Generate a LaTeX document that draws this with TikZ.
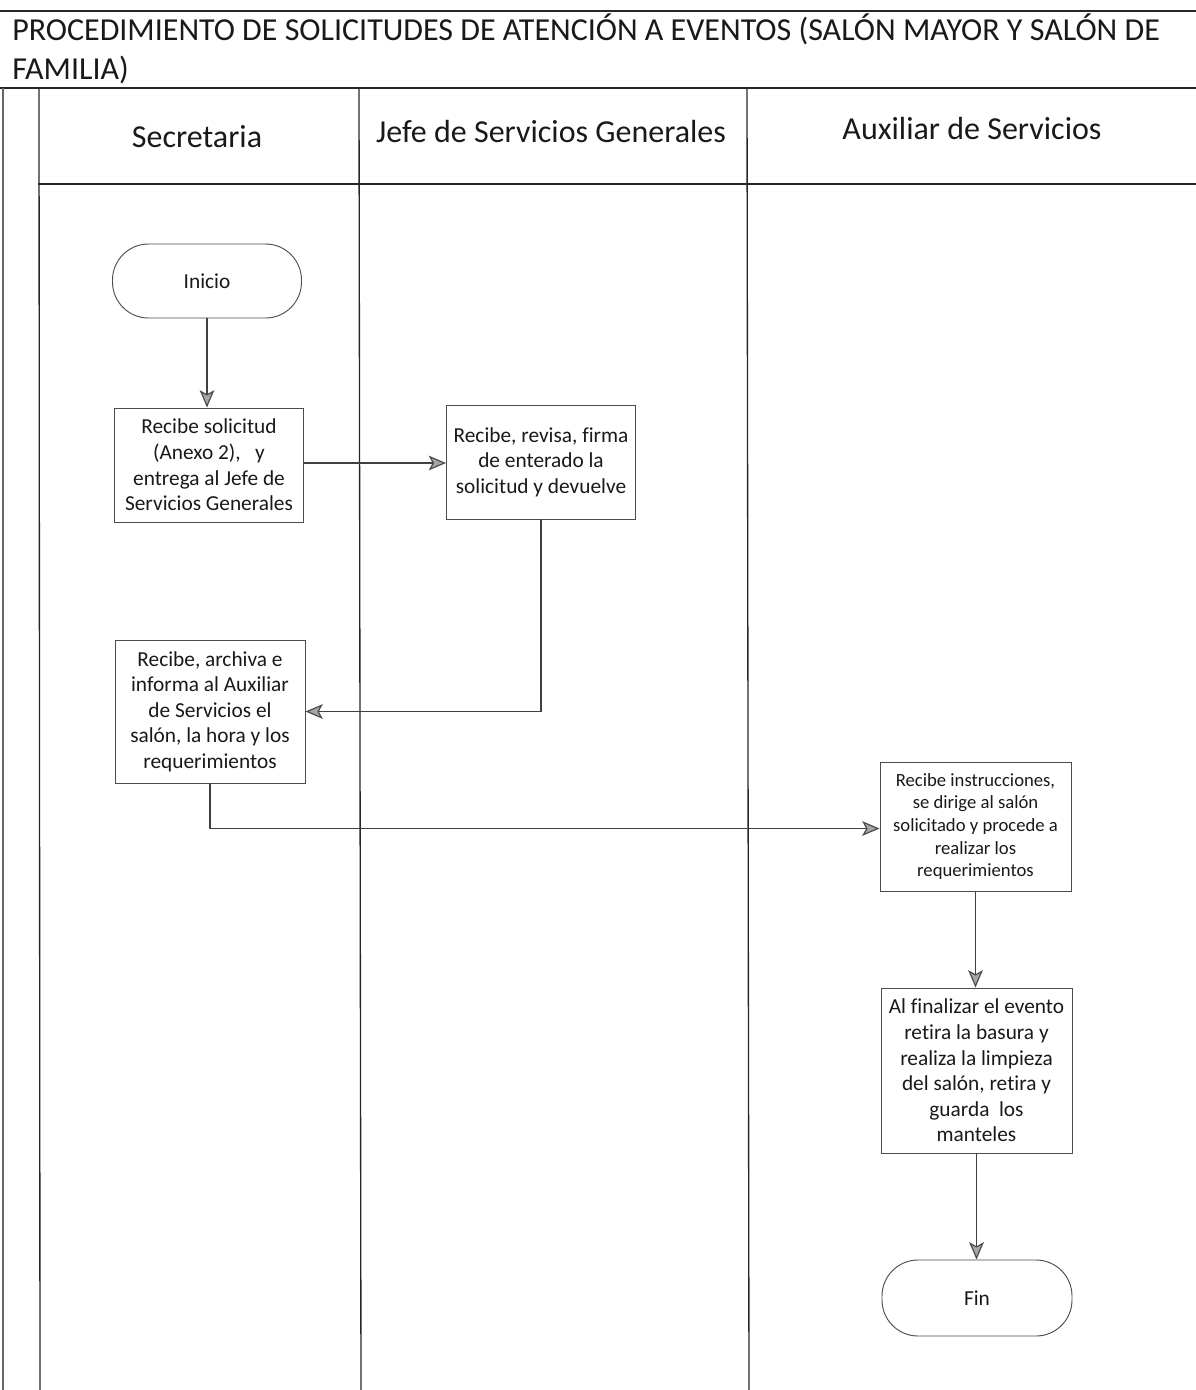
\documentclass[tikz,border=0pt]{standalone}
\usepackage{fontspec}
\setmainfont{Carlito}[Ligatures=NoCommon]
\usetikzlibrary{arrows.meta}
\tikzset{
  lane/.style={line width=1pt, draw=black!85},
  stepbox/.style={draw=black!70, line width=0.7pt, align=center, inner sep=2pt,
    font=\fontsize{16}{19.2}\selectfont, text=black!90},
  smallbox/.style={stepbox, font=\fontsize{14}{16.9}\selectfont},
  term/.style={stepbox, rounded corners=27pt},
  conn/.style={draw=black!75, line width=0.9pt,
    -{Stealth[length=13pt,width=11pt,inset=3pt,fill=gray!70,color=black!70]}},
  hdr/.style={font=\fontsize{24}{28}\selectfont, text=black!90, anchor=base, inner sep=0pt},
  ttl/.style={font=\fontsize{24}{28}\selectfont, text=black!90, anchor=base west, inner sep=0pt}
}
\begin{document}
\begin{tikzpicture}[x=0.75pt,y=-0.75pt]
\useasboundingbox (0,0) rectangle (1196,1390);
% frame lines
\draw[lane] (0,11) -- (1196,11);
\draw[lane] (0,88) -- (1196,88);
\draw[lane] (38,184) -- (1196,184);
\draw[lane, draw=black!60] (3,88) -- (3,1390);
\draw[lane] (39,88) -- (40,1390);
\draw[lane] (359,88) -- (361,1390);
\draw[lane] (747,88) -- (749,1390);
% title
\node[ttl] (t1) at (12,40) {PROCEDIMIENTO DE SOLICITUDES DE ATENCIÓN A EVENTOS (SALÓN MAYOR Y SALÓN DE};
\node[ttl] (t2) at (12,79) {FAMILIA)};
% lane headers
\node[hdr] (h1) at (197,147) {Secretaria};
\node[hdr] (h2) at (551,142) {Jefe de Servicios Generales};
\node[hdr] (h3) at (972,139) {Auxiliar de Servicios};
% nodes
\node[term, minimum width=141.75pt, minimum height=55.5pt] (ini) at (207,281) {Inicio};
\node[stepbox, minimum width=141.75pt, minimum height=85.5pt] (s1) at (209,465)
  {Recibe solicitud\\(Anexo 2),\ \ \ y\\entrega al Jefe de\\Servicios Generales};
\node[stepbox, minimum width=141.75pt, minimum height=85.5pt] (j1) at (541,462)
  {Recibe, revisa, firma\\de enterado la\\solicitud y devuelve};
\node[stepbox, minimum width=142.5pt, minimum height=107.25pt] (s2) at (210,711.5)
  {Recibe, archiva e\\informa al Auxiliar\\de Servicios el\\salón, la hora y los\\requerimientos};
\node[smallbox, minimum width=143.25pt, minimum height=96.75pt] (a1) at (975.5,826.5)
  {Recibe instrucciones,\\se dirige al salón\\solicitado y procede a\\realizar los\\requerimientos};
\node[stepbox, minimum width=143.25pt, minimum height=123.75pt] (a2) at (976.5,1070.5)
  {Al finalizar el evento\\retira la basura y\\realiza la limpieza\\del salón, retira y\\guarda\ \ los\\manteles};
\node[term, minimum width=142.5pt, minimum height=57pt] (fin) at (977,1298) {Fin};
% connectors
\draw[conn] (ini.south) -- (ini.south |- s1.north);
\draw[conn] ([yshift=1.5pt]s1.east) -- ([yshift=1.5pt]s1.east -| j1.west);
\draw[conn] (j1.south) |- (s2.east);
\draw[conn] (s2.south) |- ([yshift=-1.5pt]a1.west);
\draw[conn] (a1.south) -- (a1.south |- a2.north);
\draw[conn] (a2.south) -- (a2.south |- fin.north);
\end{tikzpicture}
\end{document}
